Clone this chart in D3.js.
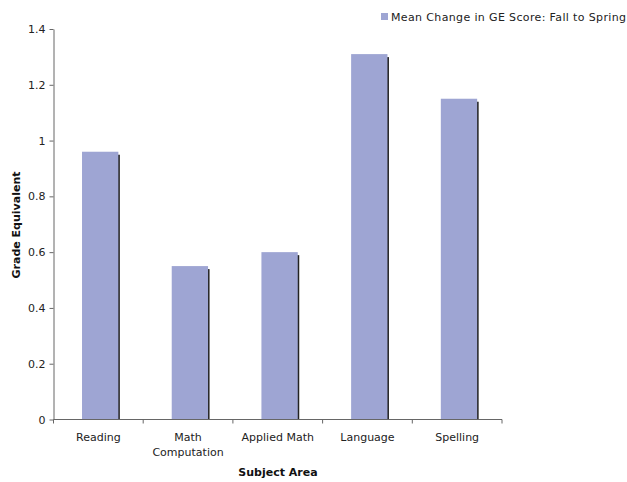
<!DOCTYPE html>
<html><head><meta charset="utf-8">
<script src="https://cdn.jsdelivr.net/npm/d3@7"></script>
<style>body{margin:0;background:#fff}svg{display:block}text{font-family:"DejaVu Sans",Verdana,sans-serif}</style>
</head><body>
<script>
const categories = [["Reading"], ["Math", "Computation"], ["Applied Math"], ["Language"], ["Spelling"]];
const values = [0.96, 0.55, 0.60, 1.31, 1.15];
const yTicks = [0, 0.2, 0.4, 0.6, 0.8, 1, 1.2, 1.4];
const seriesName = "Mean Change in GE Score: Fall to Spring";

const W = 627, H = 482;
const svg = d3.select("body").append("svg").attr("width", W).attr("height", H);
const x0 = 53.5, x1 = 502, y0 = 419.5, y1 = 29;
const keys = categories.map(c => c.join(" "));
const x = d3.scaleBand().domain(keys).range([x0, x1]).paddingInner(0).paddingOuter(0);
const y = d3.scaleLinear().domain([0, 1.4]).range([y0, y1]);
const barW = x.bandwidth() * 0.405;
const barOff = x.bandwidth() * 0.318;

const g = svg.append("g");
// shadows
g.selectAll("rect.sh").data(values).join("rect")
  .attr("x", (d, i) => x(keys[i]) + barOff + barW - 1)
  .attr("y", d => y(d) + 3)
  .attr("width", 2.5)
  .attr("height", d => y0 - y(d) - 3)
  .attr("fill", "#222");
g.selectAll("rect.bar").data(values).join("rect")
  .attr("x", (d, i) => x(keys[i]) + barOff)
  .attr("y", d => y(d))
  .attr("width", barW)
  .attr("height", d => y0 - y(d))
  .attr("fill", "#9ea5d3");

// y axis
const ya = svg.append("g").attr("transform", `translate(${x0},0)`)
  .call(d3.axisLeft(y).tickValues(yTicks).tickSize(4).tickSizeOuter(0).tickFormat(d3.format("~g")));
ya.select(".domain").attr("stroke", "#666");
ya.selectAll(".tick line").attr("stroke", "#666");
ya.selectAll(".tick text").attr("font-size", 11).attr("fill", "#222").attr("x", -8).attr("font-family", "DejaVu Sans, Verdana, sans-serif");

// x axis
const xa = svg.append("g").attr("transform", `translate(0,${y0})`);
xa.append("line").attr("x1", x0).attr("x2", x1).attr("y1", 0).attr("y2", 0).attr("stroke", "#666");
const bounds = keys.map(k => x(k)).concat([x1]);
xa.selectAll("line.t").data(bounds).join("line")
  .attr("x1", d => d).attr("x2", d => d).attr("y1", 0).attr("y2", 4).attr("stroke", "#666");
const lab = xa.selectAll("text.l").data(categories).join("text")
  .attr("text-anchor", "middle").attr("font-size", 11).attr("fill", "#222")
  .attr("transform", (d, i) => `translate(${x(keys[i]) + x.bandwidth() / 2},0)`);
lab.selectAll("tspan").data(d => d).join("tspan")
  .attr("x", 0).attr("y", (d, i) => 21 + i * 15).text(d => d);

// axis titles
svg.append("text").attr("x", 278).attr("y", 476).attr("text-anchor", "middle")
  .attr("font-size", 11).attr("font-weight", "bold").attr("fill", "#111").text("Subject Area");
svg.append("text").attr("transform", "translate(20,225) rotate(-90)").attr("text-anchor", "middle")
  .attr("font-size", 11).attr("font-weight", "bold").attr("fill", "#111").text("Grade Equivalent");

// legend
const lg = svg.append("g").attr("transform", "translate(381,12)");
lg.append("rect").attr("x", 0).attr("y", 1).attr("width", 7).attr("height", 7).attr("fill", "#9ea5d3");
lg.append("text").attr("x", 10).attr("y", 8.5).attr("font-size", 11).attr("fill", "#222")
  .attr("textLength", 235).attr("lengthAdjust", "spacing").text(seriesName);
</script>
</body></html>
